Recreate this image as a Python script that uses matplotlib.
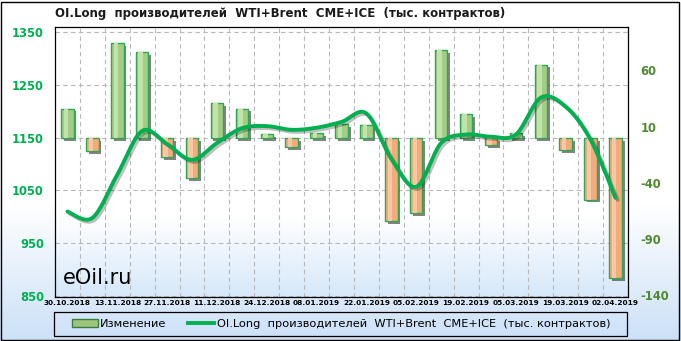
import numpy as np
import matplotlib.pyplot as plt
import matplotlib.patheffects as pe
from matplotlib.patches import Rectangle
from matplotlib.lines import Line2D

plt.rcParams['axes.unicode_minus'] = False

dates = ['30.10.2018', '06.11.2018', '13.11.2018', '20.11.2018', '27.11.2018', '04.12.2018',
         '11.12.2018', '18.12.2018', '24.12.2018', '02.01.2019', '08.01.2019', '15.01.2019',
         '22.01.2019', '29.01.2019', '05.02.2019', '12.02.2019', '19.02.2019', '26.02.2019',
         '05.03.2019', '12.03.2019', '19.03.2019', '26.03.2019', '02.04.2019']
change = [26, -12, 84, 76.5, -17, -36, 31, 26, 3, -8, 4, 12,
          11, -74, -67, 78, 21, -6.5, 4, 65, -11, -55, -125]
oi_long = [1010, 998, 1080, 1163, 1138, 1108, 1140, 1168, 1172, 1165, 1169, 1180,
           1196, 1110, 1057, 1140, 1156, 1152, 1156, 1226, 1209, 1146, 1036]
left_ticks = [850, 950, 1050, 1150, 1250, 1350]
right_ticks = [-140, -90, -40, 10, 60]

title = 'OI.Long  производителей  WTI+Brent  CME+ICE  (тыс. контрактов)'
line_color = '#00b050'


def smooth(xs, ys, n=20):
    # catmull-rom curve through the points, close to excel's smoothed line
    pts = np.column_stack([xs, ys]).astype(float)
    p = np.vstack([pts[0], pts, pts[-1]])
    t = np.linspace(0, 1, n, endpoint=False)[:, None]
    out = []
    for i in range(1, len(p) - 2):
        p0, p1, p2, p3 = p[i - 1], p[i], p[i + 1], p[i + 2]
        seg = 0.5 * (2 * p1 + (-p0 + p2) * t + (2 * p0 - 5 * p1 + 4 * p2 - p3) * t ** 2
                     + (-p0 + 3 * p1 - 3 * p2 + p3) * t ** 3)
        out.append(seg)
    out.append(pts[-1][None])
    return np.vstack(out)


def gradient(top, bottom, start, n=256):
    f = np.clip((np.linspace(0, 1, n) - start) / (1 - start), 0, 1)[:, None]
    c = np.array(top)[None, :] * (1 - f) + np.array(bottom)[None, :] * f
    return c[:, None, :]


fig = plt.figure(figsize=(6.81, 3.41), dpi=100)

bg = fig.add_axes([0, 0, 1, 1], zorder=-10)
bg.imshow(gradient((1, 1, 1), (0.80, 0.88, 0.97), 0.6), aspect='auto', extent=[0, 1, 0, 1])
bg.set_xlim(0, 1)
bg.set_ylim(0, 1)
bg.axis('off')

ax = fig.add_axes([55 / 681, 44 / 341, 573 / 681, 270 / 341])
ax.set_facecolor('none')
ax.imshow(gradient((1, 1, 1), (0.84, 0.91, 0.98), 0.7), aspect='auto',
          extent=[0, 1, 0, 1], transform=ax.transAxes, zorder=0)
ax2 = ax.twinx()

x = np.arange(len(dates))
r_lo, r_hi = -141.5, 98.5
l_lo, l_hi = 848, 1360

# grid: vertical between bars, horizontal at left-axis ticks
for i in range(len(dates) - 1):
    ax.axvline(i + 0.5, color='#b8b8b8', lw=0.8, ls=(0, (4, 3)), zorder=1)
for v in left_ticks:
    f = (v - l_lo) / (l_hi - l_lo)
    ax.plot([0, 1], [f, f], transform=ax.transAxes, color='#b8b8b8', lw=0.8,
            ls=(0, (4, 3)), zorder=1)

faces = ['#a3cd86' if v >= 0 else '#f2ac7c' for v in change]
bars = ax.bar(x, change, width=0.5, color=faces, edgecolor='#2fa650', lw=1.0, zorder=3)
for b in bars:
    b.set_path_effects([pe.SimplePatchShadow(offset=(2, -2), shadow_rgbFace='#303030', alpha=0.6),
                        pe.Normal()])
hi_faces = ['#c2e2ab' if v >= 0 else '#f8c8a4' for v in change]
ax.bar(x - 0.06, change, width=0.18, color=hi_faces, lw=0, zorder=4)

ax.set_xlim(-0.5, len(dates) - 0.5)
ax.set_ylim(r_lo, r_hi)
ax.set_yticks(right_ticks)
ax.yaxis.tick_right()
ax.tick_params(axis='y', length=0, pad=9, labelsize=8.3, labelcolor='#4f8a2e')
for lab in ax.get_yticklabels():
    lab.set_fontweight('bold')
ax.set_xticks(x[::2])
ax.set_xticklabels(dates[::2], fontsize=5.3, fontweight='bold')
ax.tick_params(axis='x', length=0, pad=2.5)
for s in ax.spines.values():
    s.set_color('black')
    s.set_linewidth(0.9)

curve = smooth(x, oi_long)
ax2.plot(curve[:, 0], curve[:, 1], color=line_color, lw=2.8, solid_capstyle='round',
         path_effects=[pe.SimpleLineShadow(offset=(1.5, -1.5), alpha=0.25), pe.Normal()])
ax2.set_ylim(l_lo, l_hi)
ax2.set_yticks(left_ticks)
ax2.yaxis.tick_left()
ax2.tick_params(axis='y', length=0, pad=8, labelsize=8.3, labelcolor=line_color)
for lab in ax2.get_yticklabels():
    lab.set_fontweight('bold')
for s in ax2.spines.values():
    s.set_visible(False)

ax.text(8 / 573, 0.05, 'eOil.ru', transform=ax.transAxes, fontsize=15,
        ha='left', va='baseline', zorder=6)

fig.text(55 / 681, 1 - 14 / 341, title, ha='left', va='center', fontsize=8.5,
         fontweight='bold', color='#1a1a1a')

# legend frame and entries
fig.patches.append(Rectangle((54 / 681, 5 / 341), 573 / 681, 24 / 341, transform=fig.transFigure,
                             facecolor='none', edgecolor='black', lw=0.9))
handles = [Rectangle((0, 0), 1, 1, facecolor='#9cc57c', edgecolor='#3f7a40', lw=1.0),
           Line2D([], [], color=line_color, lw=2.8)]
fig.legend(handles, ['Изменение', title], loc='center', bbox_to_anchor=(341 / 681, 17 / 341),
           ncol=2, frameon=False, fontsize=8.2, handlelength=2.3, handleheight=0.6,
           handletextpad=0.2, columnspacing=1.9)

fig.patches.append(Rectangle((1 / 681, 1 / 341), 678 / 681, 338 / 341, transform=fig.transFigure,
                             facecolor='none', edgecolor='black', lw=1.0))

fig.savefig('out.png', dpi=100)
